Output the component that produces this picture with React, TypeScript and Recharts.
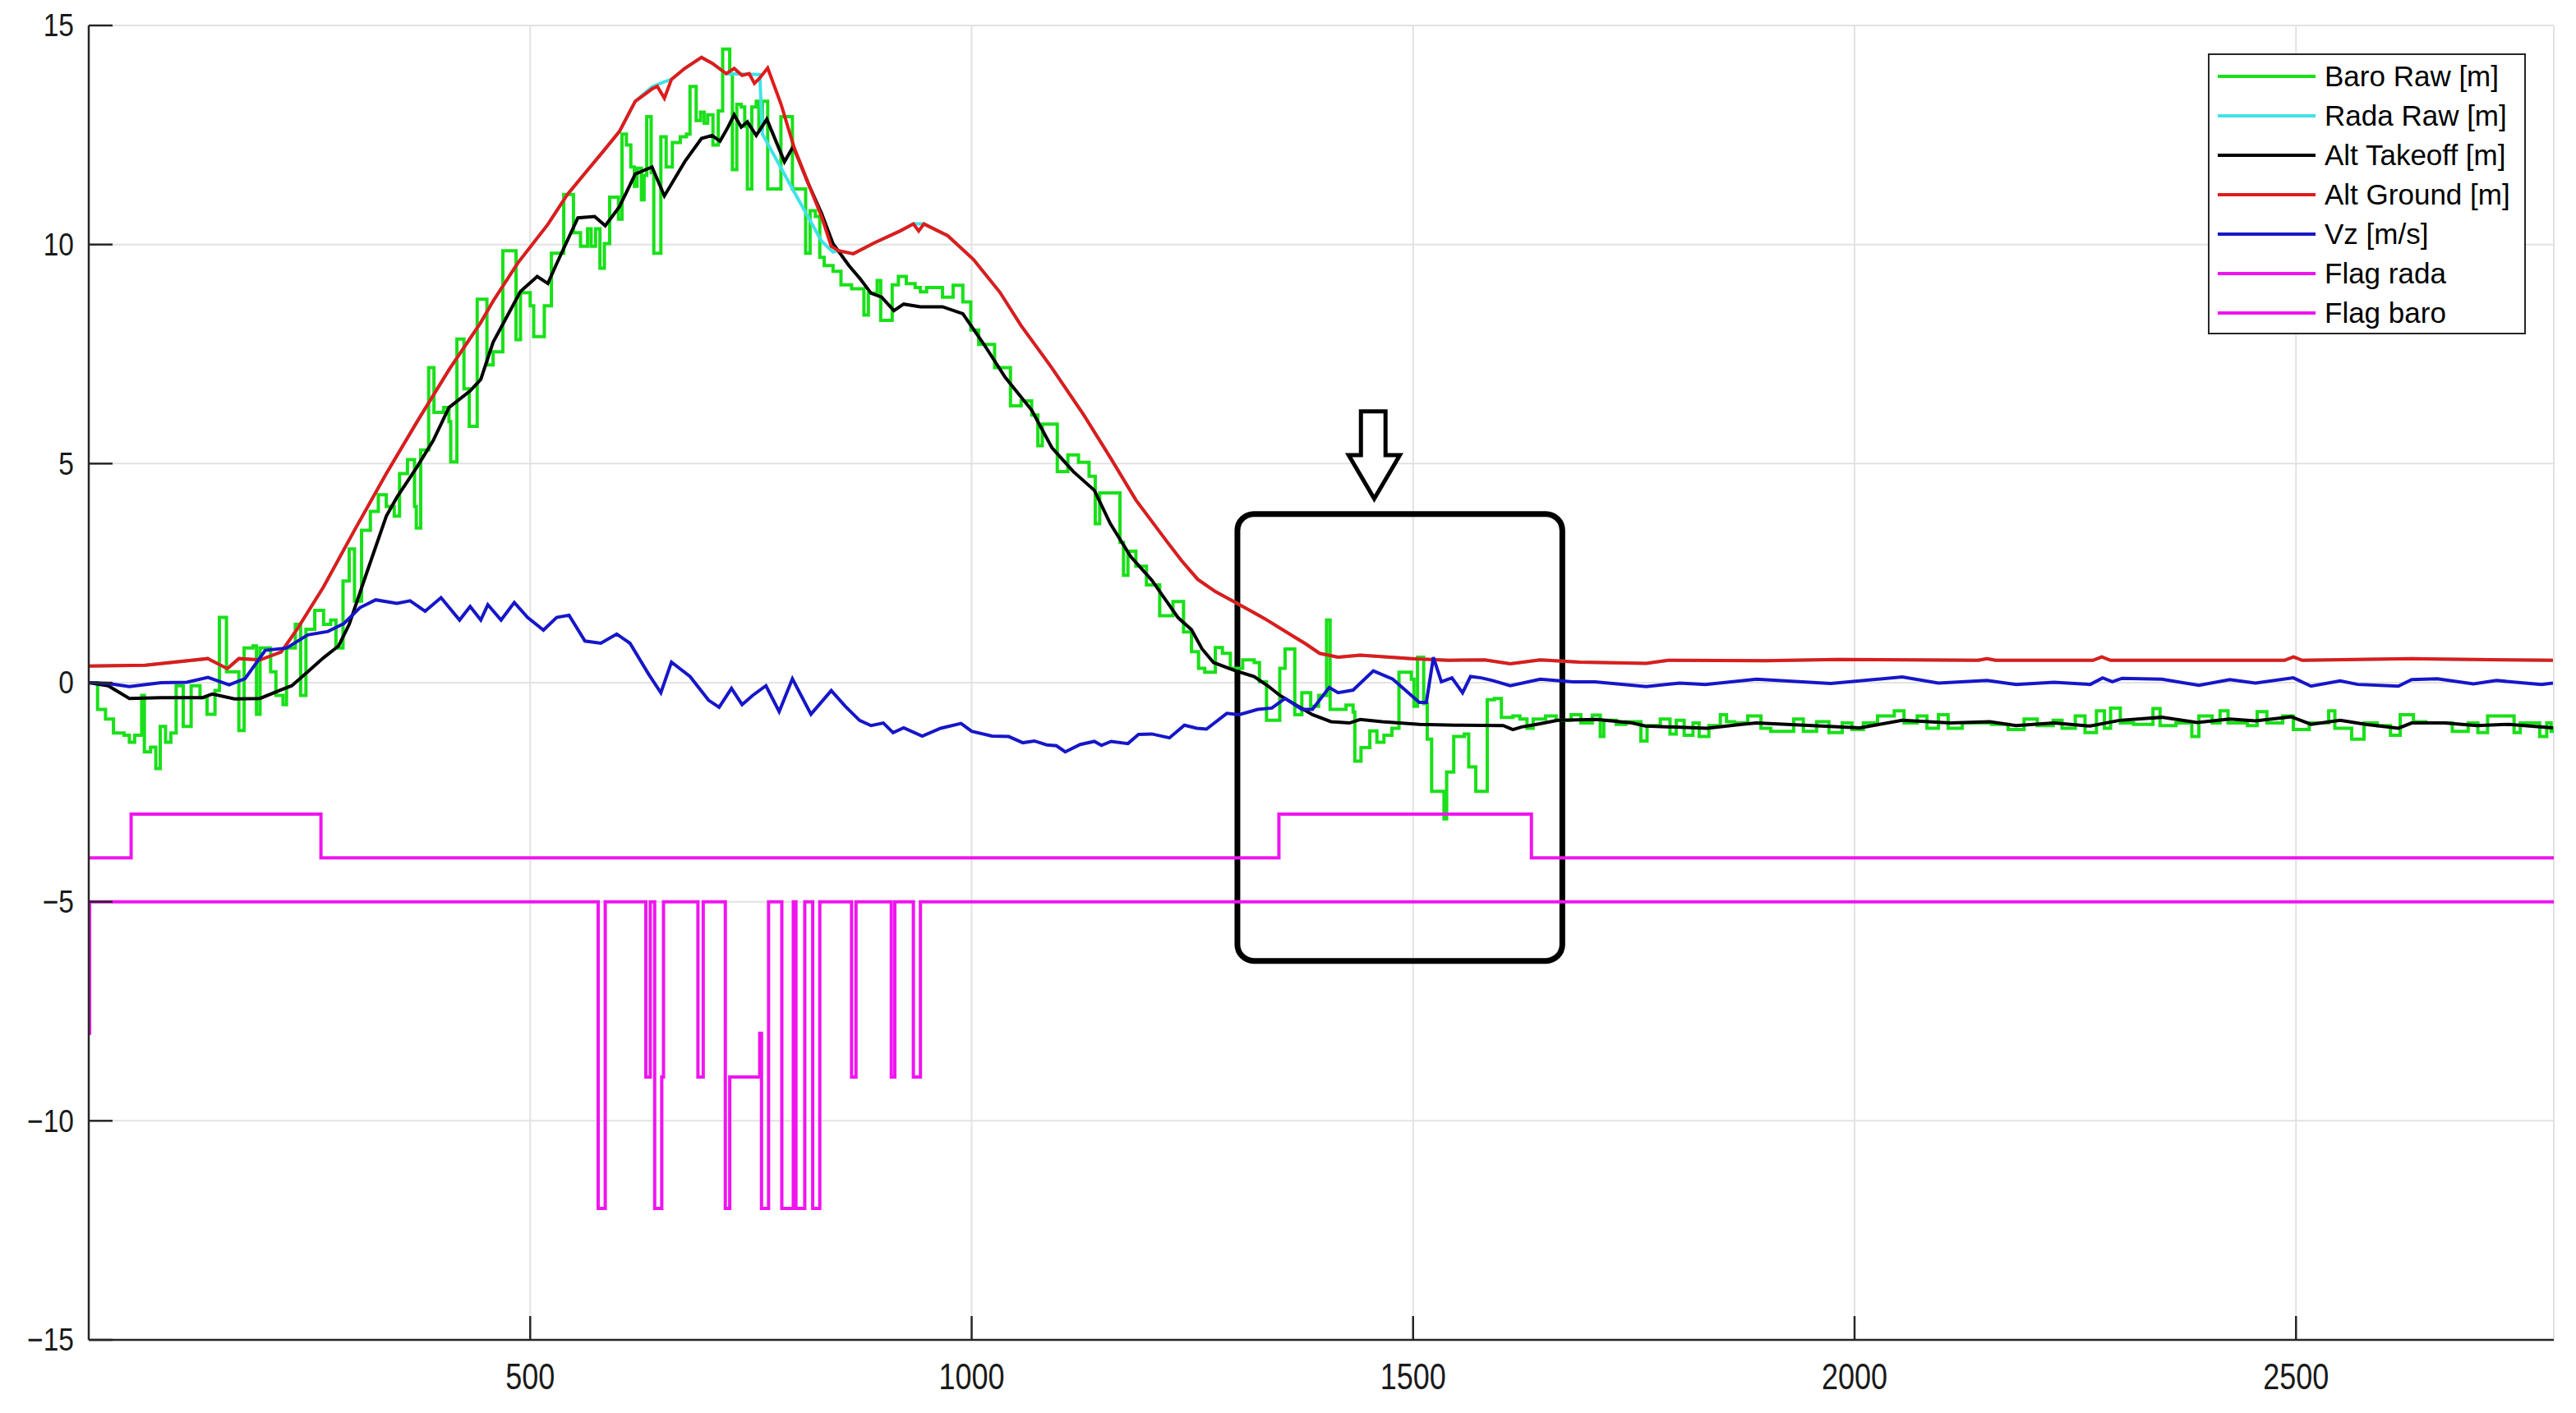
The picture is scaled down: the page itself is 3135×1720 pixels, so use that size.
import React from 'react';
import { LineChart, Line, XAxis, YAxis, CartesianGrid, Legend, ReferenceArea } from 'recharts';

type P = [number, number];

// ---- tick labels ----
const X_TICKS = [500, 1000, 1500, 2000, 2500];
const Y_TICKS = [-15, -10, -5, 0, 5, 10, 15];
const X_DOMAIN: [number, number] = [0, 2792];
const Y_DOMAIN: [number, number] = [-15, 15];

// ---- series names (legend order) ----
const NAMES = ['Baro Raw [m]', 'Rada Raw [m]', 'Alt Takeoff [m]', 'Alt Ground [m]', 'Vz [m/s]', 'Flag rada', 'Flag baro'];

// ---- series values [sample, value] ----
const BARO_RAW: P[] = [
  [0, 0.0], [10, -0.61], [19, -0.83], [28, -1.15], [40, -1.2], [46, -1.36], [52, -1.2], [60, -0.29], [63, -1.58], [70, -1.47],
  [76, -1.96], [81, -1.0], [87, -1.36], [93, -1.15], [99, -0.07], [107, -1.0], [116, -0.07], [126, -0.34], [134, -0.72], [143, -0.18],
  [148, 1.49], [156, 0.25], [170, -1.09], [176, 0.79], [186, 0.84], [190, -0.72], [194, 0.79], [206, 0.25], [212, -0.29], [220, -0.5],
  [224, 0.79], [234, 1.33], [240, -0.29], [246, 1.22], [256, 1.65], [266, 1.33], [274, 1.43], [280, 0.79], [288, 2.32], [295, 3.05],
  [301, 1.86], [309, 3.48], [319, 3.91], [328, 4.29], [337, 4.02], [346, 3.8], [352, 4.77], [361, 5.09], [369, 4.02], [371, 3.53],
  [376, 5.31], [385, 7.19], [391, 6.17], [402, 6.28], [408, 5.96], [410, 5.04], [417, 7.84], [425, 6.71], [431, 5.85], [440, 8.75],
  [451, 7.25], [458, 7.55], [469, 9.86], [484, 7.83], [489, 8.9], [500, 8.6], [504, 7.9], [516, 8.6], [524, 9.8], [538, 11.14],
  [549, 10.27], [557, 9.96], [565, 10.36], [569, 9.96], [574, 10.36], [579, 9.46], [584, 10.02], [590, 11.08], [600, 10.58], [604, 12.52],
  [609, 12.27], [614, 11.77], [618, 11.33], [621, 11.74], [626, 11.02], [629, 11.58], [632, 12.92], [637, 11.64], [640, 9.8], [648, 12.46],
  [654, 11.77], [661, 12.33], [670, 12.46], [677, 12.52], [681, 13.61], [688, 12.83], [693, 13.02], [697, 12.77], [701, 12.96], [707, 12.27],
  [713, 13.05], [718, 14.46], [726, 13.9], [729, 11.71], [734, 13.2], [739, 13.14], [743, 12.7], [746, 11.27], [751, 13.14], [756, 13.27],
  [759, 12.64], [763, 13.27], [769, 11.27], [784, 12.92], [797, 11.27], [812, 9.8], [817, 10.77], [823, 10.64], [828, 9.71], [833, 9.52],
  [843, 9.39], [852, 9.08], [864, 8.99], [878, 8.39], [883, 8.89], [893, 9.18], [897, 8.27], [910, 9.08], [917, 9.27], [926, 9.11],
  [936, 9.02], [942, 8.92], [949, 9.02], [967, 8.8], [979, 9.07], [990, 8.69], [999, 8.05], [1008, 7.72], [1026, 7.19], [1044, 6.32],
  [1056, 6.43], [1068, 6.11], [1075, 5.41], [1080, 5.9], [1097, 4.82], [1109, 5.2], [1121, 5.03], [1133, 4.71], [1140, 3.63], [1145, 4.33],
  [1168, 3.2], [1172, 2.45], [1177, 3.0], [1186, 2.66], [1198, 2.23], [1213, 1.53], [1228, 1.85], [1240, 1.16], [1249, 0.71], [1257, 0.33],
  [1264, 0.24], [1276, 0.8], [1284, 0.67], [1293, 0.33], [1307, 0.52], [1320, 0.46], [1326, 0.02], [1334, -0.86], [1349, 0.33], [1355, 0.77],
  [1366, -0.73], [1374, -0.23], [1384, -0.54], [1393, -0.29], [1402, 1.43], [1406, -0.61], [1424, -0.51], [1432, -0.67], [1434, -1.79], [1441, -1.48],
  [1451, -1.1], [1459, -1.36], [1467, -1.2], [1476, -1.04], [1484, 0.24], [1498, 0.08], [1501, -0.54], [1505, 0.58], [1512, -0.48], [1516, -1.29],
  [1521, -2.48], [1535, -3.11], [1538, -2.04], [1546, -1.23], [1558, -1.17], [1563, -1.92], [1571, -2.48], [1584, -0.39], [1592, -0.36], [1600, -0.79],
  [1613, -0.76], [1621, -0.83], [1629, -1.04], [1636, -0.83], [1650, -0.76], [1662, -0.86], [1679, -0.73], [1690, -0.92], [1703, -0.74], [1712, -1.23],
  [1716, -0.86], [1730, -0.95], [1741, -0.89], [1758, -1.33], [1765, -0.98], [1780, -0.83], [1791, -1.17], [1798, -0.86], [1807, -1.2], [1817, -0.92],
  [1824, -1.23], [1835, -0.98], [1848, -0.73], [1855, -0.89], [1864, -0.92], [1879, -0.76], [1894, -1.04], [1905, -1.11], [1931, -0.83], [1942, -1.11],
  [1957, -0.89], [1971, -1.14], [1986, -0.92], [1997, -1.07], [2010, -0.92], [2026, -0.76], [2045, -0.64], [2056, -0.92], [2071, -0.76], [2082, -1.04],
  [2095, -0.73], [2106, -1.04], [2122, -0.92], [2155, -0.95], [2174, -1.07], [2192, -0.83], [2207, -0.98], [2225, -0.86], [2235, -1.04], [2250, -0.76],
  [2261, -1.14], [2274, -0.64], [2283, -1.04], [2290, -0.58], [2301, -0.92], [2316, -0.95], [2338, -0.59], [2346, -0.98], [2364, -0.92], [2382, -1.23],
  [2390, -0.76], [2405, -0.92], [2414, -0.64], [2423, -0.92], [2445, -0.98], [2456, -0.66], [2467, -0.92], [2485, -0.76], [2497, -1.07], [2515, -0.92],
  [2537, -0.64], [2544, -1.04], [2563, -1.29], [2577, -0.92], [2592, -0.98], [2607, -1.2], [2618, -0.73], [2633, -0.89], [2647, -0.92], [2677, -1.11],
  [2695, -0.92], [2706, -1.14], [2717, -0.76], [2732, -0.76], [2747, -1.14], [2754, -0.92], [2776, -1.23], [2784, -0.92], [2789, -1.11], [2792, -1.0],
];

const RADA_RAW: P[] = [
  [0, 0.38], [64, 0.4], [135, 0.55], [157, 0.32], [170, 0.55], [194, 0.52], [218, 0.7], [236, 1.22], [266, 2.19], [301, 3.48],
  [337, 4.77], [372, 5.96], [408, 7.14], [444, 8.22], [458, 8.71], [486, 9.58], [520, 10.46], [542, 11.14], [560, 11.58], [582, 12.11],
  [601, 12.58], [619, 13.27], [638, 13.6], [650, 13.7], [660, 13.77], [675, 14.02], [694, 14.27], [706, 14.14], [722, 13.9], [760, 13.88],
  [763, 12.52], [799, 11.2], [830, 10.08], [843, 9.83], [849, 9.86], [866, 9.79], [890, 10.04], [919, 10.31], [934, 10.47], [946, 10.47],
  [973, 10.2], [1002, 9.66], [1032, 8.91], [1056, 8.15], [1091, 7.18], [1127, 6.11], [1157, 5.14], [1186, 4.17], [1222, 3.2], [1238, 2.78],
  [1256, 2.36], [1276, 2.08], [1299, 1.83], [1332, 1.46], [1365, 1.05], [1378, 0.89], [1394, 0.67], [1415, 0.58], [1440, 0.63], [1498, 0.55],
  [1540, 0.51], [1581, 0.52], [1610, 0.43], [1644, 0.52], [1689, 0.47], [1764, 0.44], [1789, 0.51], [1900, 0.5], [1981, 0.53], [2140, 0.51],
  [2150, 0.55], [2160, 0.51], [2270, 0.51], [2280, 0.59], [2290, 0.51], [2487, 0.51], [2497, 0.59], [2507, 0.51], [2631, 0.55], [2660, 0.54],
  [2741, 0.52], [2791, 0.51],
];

const ALT_TAKEOFF: P[] = [
  [0, 0.0], [22, -0.07], [46, -0.36], [82, -0.34], [129, -0.34], [140, -0.26], [165, -0.37], [194, -0.36], [218, -0.16], [230, -0.07],
  [248, 0.25], [266, 0.57], [283, 0.84], [295, 1.33], [313, 2.4], [337, 3.8], [349, 4.23], [372, 4.93], [390, 5.52], [408, 6.28],
  [432, 6.66], [444, 6.92], [458, 7.77], [489, 8.93], [508, 9.27], [520, 9.11], [529, 9.52], [554, 10.61], [573, 10.64], [585, 10.43],
  [601, 10.86], [619, 11.61], [638, 11.77], [652, 11.11], [675, 11.89], [694, 12.42], [706, 12.49], [715, 12.36], [723, 12.64], [731, 12.96],
  [739, 12.68], [746, 12.8], [756, 12.49], [768, 12.86], [788, 11.89], [798, 12.24], [815, 11.39], [830, 10.71], [843, 10.02], [861, 9.52],
  [874, 9.21], [886, 8.89], [898, 8.8], [912, 8.49], [923, 8.64], [942, 8.58], [967, 8.58], [990, 8.42], [1014, 7.72], [1038, 6.97],
  [1068, 6.22], [1091, 5.36], [1115, 4.82], [1139, 4.39], [1157, 3.63], [1180, 2.88], [1204, 2.34], [1234, 1.48], [1249, 1.21], [1261, 0.77],
  [1274, 0.46], [1299, 0.27], [1320, 0.14], [1336, -0.08], [1349, -0.29], [1365, -0.48], [1386, -0.73], [1407, -0.89], [1428, -0.92], [1440, -0.84],
  [1465, -0.89], [1507, -0.95], [1548, -0.97], [1602, -0.98], [1613, -1.07], [1623, -1.01], [1640, -0.95], [1664, -0.86], [1708, -0.84], [1748, -0.92],
  [1763, -0.99], [1833, -1.04], [1872, -0.95], [1889, -0.92], [1962, -0.99], [2006, -1.03], [2054, -0.86], [2109, -0.92], [2153, -0.89], [2183, -0.98],
  [2226, -0.92], [2267, -0.99], [2300, -0.86], [2348, -0.79], [2388, -0.91], [2425, -0.83], [2454, -0.87], [2495, -0.78], [2517, -0.95], [2550, -0.86],
  [2579, -0.95], [2616, -1.04], [2631, -0.92], [2668, -0.92], [2705, -0.98], [2741, -0.95], [2791, -1.03],
];

const ALT_GROUND: P[] = [
  [0, 0.38], [64, 0.4], [135, 0.55], [157, 0.32], [170, 0.55], [194, 0.52], [218, 0.7], [236, 1.22], [266, 2.19], [301, 3.48],
  [337, 4.77], [372, 5.96], [408, 7.14], [444, 8.22], [458, 8.71], [486, 9.58], [520, 10.46], [542, 11.14], [560, 11.58], [582, 12.11],
  [601, 12.58], [619, 13.27], [638, 13.55], [644, 13.61], [652, 13.34], [660, 13.77], [675, 14.02], [694, 14.27], [706, 14.14], [722, 13.9],
  [731, 14.02], [740, 13.86], [748, 13.9], [754, 13.68], [760, 13.8], [769, 14.03], [784, 13.21], [799, 12.21], [815, 11.39], [830, 10.64],
  [841, 9.96], [849, 9.86], [866, 9.79], [890, 10.04], [919, 10.31], [934, 10.47], [940, 10.31], [946, 10.47], [973, 10.2], [1002, 9.66],
  [1032, 8.91], [1056, 8.15], [1091, 7.18], [1127, 6.11], [1157, 5.14], [1186, 4.17], [1222, 3.2], [1238, 2.78], [1256, 2.36], [1276, 2.08],
  [1299, 1.83], [1332, 1.46], [1365, 1.05], [1378, 0.89], [1394, 0.67], [1415, 0.58], [1440, 0.63], [1498, 0.55], [1540, 0.51], [1581, 0.52],
  [1610, 0.43], [1644, 0.52], [1689, 0.47], [1764, 0.44], [1789, 0.51], [1900, 0.5], [1981, 0.53], [2140, 0.51], [2150, 0.55], [2160, 0.51],
  [2270, 0.51], [2280, 0.59], [2290, 0.51], [2487, 0.51], [2497, 0.59], [2507, 0.51], [2631, 0.55], [2660, 0.54], [2741, 0.52], [2791, 0.51],
];

const VZ: P[] = [
  [1, 0.0], [22, -0.02], [46, -0.09], [82, 0.0], [111, 0.01], [135, 0.12], [159, -0.05], [177, 0.09], [200, 0.74], [224, 0.79],
  [248, 1.09], [271, 1.17], [289, 1.35], [307, 1.71], [325, 1.89], [349, 1.81], [364, 1.87], [381, 1.63], [399, 1.94], [420, 1.43],
  [432, 1.74], [444, 1.43], [452, 1.78], [467, 1.43], [482, 1.83], [497, 1.49], [515, 1.2], [530, 1.49], [544, 1.54], [562, 0.95],
  [580, 0.9], [598, 1.11], [613, 0.9], [634, 0.2], [648, -0.23], [660, 0.47], [681, 0.14], [702, -0.4], [714, -0.56], [728, -0.13],
  [740, -0.5], [752, -0.29], [767, -0.07], [782, -0.66], [797, 0.09], [818, -0.72], [841, -0.18], [857, -0.54], [873, -0.86], [886, -0.98],
  [900, -0.92], [911, -1.14], [923, -1.03], [944, -1.22], [965, -1.04], [988, -0.93], [1000, -1.11], [1023, -1.22], [1042, -1.23], [1058, -1.37],
  [1071, -1.33], [1085, -1.42], [1096, -1.44], [1106, -1.58], [1123, -1.41], [1139, -1.34], [1147, -1.43], [1158, -1.34], [1177, -1.39], [1189, -1.18],
  [1204, -1.17], [1224, -1.26], [1241, -0.97], [1255, -1.04], [1266, -1.06], [1289, -0.7], [1303, -0.73], [1324, -0.61], [1340, -0.58], [1355, -0.36],
  [1374, -0.61], [1386, -0.61], [1405, -0.11], [1415, -0.23], [1432, -0.17], [1455, 0.27], [1477, 0.08], [1498, -0.29], [1507, -0.45], [1515, -0.45],
  [1523, 0.58], [1532, 0.02], [1544, 0.11], [1556, -0.23], [1565, 0.14], [1577, 0.11], [1590, 0.05], [1610, -0.07], [1644, 0.08], [1681, 0.02],
  [1706, 0.02], [1764, -0.09], [1802, -0.01], [1831, -0.04], [1889, 0.08], [1973, -0.02], [2054, 0.13], [2095, -0.01], [2150, 0.05], [2183, -0.04],
  [2226, 0.01], [2267, -0.04], [2281, 0.11], [2292, 0.02], [2303, 0.1], [2348, 0.08], [2390, -0.06], [2425, 0.07], [2454, -0.01], [2497, 0.11],
  [2517, -0.08], [2550, 0.04], [2570, -0.04], [2616, -0.08], [2631, 0.07], [2660, 0.09], [2701, -0.03], [2727, 0.05], [2778, -0.04], [2791, -0.01],
];

const FLAG_RADA: P[] = [[0, -4], [48, -3], [263, -4], [1348, -3], [1634, -4], [2792, -4]];

const FLAG_BARO: P[] = [
  [0, -8], [1, -5], [577, -12], [585, -5], [631, -9], [636, -5], [641, -12], [649, -9], [651, -5], [690, -9],
  [696, -5], [721, -12], [726, -9], [760, -8], [762, -12], [770, -5], [785, -12], [798, -5], [801, -12], [811, -5],
  [820, -12], [828, -5], [864, -9], [869, -5], [909, -9], [913, -5], [934, -9], [942, -5], [2792, -5],
];

// annotation (data coordinates)
const BOX_X: [number, number] = [1301, 1669];
const BOX_Y: [number, number] = [-6.35, 3.85];
const ARROW_X: [number, number] = [1427, 1485];
const ARROW_Y: [number, number] = [4.2, 6.19];

const rows = (pts: P[]) => pts.map(([t, v]) => ({ t, v }));

const COLORS = {
  baro: '#19e019',
  rada: '#40e2e8',
  takeoff: '#000000',
  ground: '#e01b1b',
  vz: '#1616c8',
  flag: '#f014f0',
};

const FONT = '"Liberation Sans", Arial, Helvetica, sans-serif';
const fmt = (v: number) => String(v).replace('-', '\u2212');

const YTick = (props: any) => {
  const { x, y, payload } = props;
  return (
    <g>
      <line x1={x + 18} x2={x + 18 + 29} y1={y} y2={y} stroke="#262626" strokeWidth={2.5} />
      <text
        transform={`translate(${x},${y}) scale(0.86,1)`}
        x={0}
        y={0}
        textAnchor="end"
        dominantBaseline="central"
        fontFamily={FONT}
        fontSize={39}
        fill="#1a1a1a"
      >
        {fmt(payload.value)}
      </text>
    </g>
  );
};

const XTick = (props: any) => {
  const { x, y, payload } = props;
  return (
    <g>
      <line x1={x} x2={x} y1={y} y2={y - 29} stroke="#262626" strokeWidth={2.5} />
      <text
        transform={`translate(${x},${y + 45}) scale(0.8,1)`}
        x={0}
        y={0}
        textAnchor="middle"
        dominantBaseline="central"
        fontFamily={FONT}
        fontSize={45}
        fill="#1a1a1a"
      >
        {fmt(payload.value)}
      </text>
    </g>
  );
};

const LegendBox = (props: any) => {
  const payload = (props.payload || []).slice().sort(
    (a: any, b: any) => NAMES.indexOf(a.value) - NAMES.indexOf(b.value)
  );
  return (
    <div
      style={{
        position: 'relative',
        width: 387,
        height: 342,
        boxSizing: 'border-box',
        border: '2.5px solid #262626',
        background: '#fff',
        fontFamily: FONT,
        fontSize: 35,
        color: '#000',
      }}
    >
      {payload.map((p: any, i: number) => (
        <div
          key={p.value}
          style={{ position: 'absolute', left: 0, top: 26 + 48 * i - 24, height: 48, width: '100%' }}
        >
          <svg width={130} height={48} style={{ position: 'absolute', left: 10, top: 0 }}>
            <line x1={0} x2={119} y1={24} y2={24} stroke={p.color} strokeWidth={4} />
          </svg>
          <span style={{ position: 'absolute', left: 140, top: 0, lineHeight: '48px', whiteSpace: 'nowrap' }}>
            {p.value}
          </span>
        </div>
      ))}
    </div>
  );
};

const RoundedBox = (p: any) => (
  <rect x={p.x} y={p.y} width={p.width} height={p.height} rx={20} ry={20} fill="none" stroke="#000" strokeWidth={7} />
);

const Arrow = (p: any) => {
  const { x, y, width: w, height: h } = p;
  const sl = x + w * 0.24;
  const sr = x + w * 0.72;
  const hy = y + h * 0.5;
  const pts = [
    [sl, y], [sr, y], [sr, hy], [x + w, hy], [x + w * 0.5, y + h], [x, hy], [sl, hy],
  ]
    .map((q) => q.join(','))
    .join(' ');
  return <polygon points={pts} fill="#fff" stroke="#000" strokeWidth={5} strokeLinejoin="miter" />;
};

export default function App() {
  const lineCommon = { dot: false, activeDot: false, isAnimationActive: false, dataKey: 'v' } as const;
  const SW = 4;
  return (
    <div style={{ width: 3119, height: 1700 }}>
      <LineChart
        width={3119}
        height={1700}
        margin={{ top: 23, right: 19, left: 0, bottom: 0 }}
        style={{ fontFamily: FONT, background: '#fff' }}
      >
        <CartesianGrid stroke="#e2e2e2" strokeWidth={2} />
        <XAxis
          type="number"
          dataKey="t"
          domain={X_DOMAIN}
          ticks={X_TICKS}
          allowDataOverflow
          height={77}
          axisLine={{ stroke: '#262626', strokeWidth: 2.5 }}
          tickLine={false}
          tickSize={0}
          tickMargin={0}
          tick={(p: any) => <XTick {...p} />}
          interval={0}
        />
        <YAxis
          type="number"
          domain={Y_DOMAIN}
          ticks={Y_TICKS}
          allowDataOverflow
          width={100}
          axisLine={{ stroke: '#262626', strokeWidth: 2.5 }}
          tickLine={false}
          tickSize={0}
          tickMargin={18}
          tick={(p: any) => <YTick {...p} />}
          interval={0}
        />
        <Line {...lineCommon} data={rows(BARO_RAW)} name={NAMES[0]} type="stepAfter" stroke={COLORS.baro} strokeWidth={SW} />
        <Line {...lineCommon} data={rows(RADA_RAW)} name={NAMES[1]} type="linear" stroke={COLORS.rada} strokeWidth={SW} />
        <Line {...lineCommon} data={rows(ALT_TAKEOFF)} name={NAMES[2]} type="linear" stroke={COLORS.takeoff} strokeWidth={SW} />
        <Line {...lineCommon} data={rows(ALT_GROUND)} name={NAMES[3]} type="linear" stroke={COLORS.ground} strokeWidth={SW} />
        <Line {...lineCommon} data={rows(VZ)} name={NAMES[4]} type="linear" stroke={COLORS.vz} strokeWidth={SW} />
        <Line {...lineCommon} data={rows(FLAG_RADA)} name={NAMES[5]} type="stepAfter" stroke={COLORS.flag} strokeWidth={SW} />
        <Line {...lineCommon} data={rows(FLAG_BARO)} name={NAMES[6]} type="stepAfter" stroke={COLORS.flag} strokeWidth={SW} />
        <ReferenceArea
          x1={BOX_X[0]}
          x2={BOX_X[1]}
          y1={BOX_Y[0]}
          y2={BOX_Y[1]}
          ifOverflow="visible"
          shape={(p: any) => <RoundedBox {...p} />}
        />
        <ReferenceArea
          x1={ARROW_X[0]}
          x2={ARROW_X[1]}
          y1={ARROW_Y[0]}
          y2={ARROW_Y[1]}
          ifOverflow="visible"
          shape={(p: any) => <Arrow {...p} />}
        />
        <Legend
          layout="horizontal"
          align="center"
          verticalAlign="middle"
          content={(p: any) => <LegendBox {...p} />}
          wrapperStyle={{ left: 2679, top: 57, width: 387, height: 342, right: 'auto', bottom: 'auto' }}
        />
      </LineChart>
    </div>
  );
}
